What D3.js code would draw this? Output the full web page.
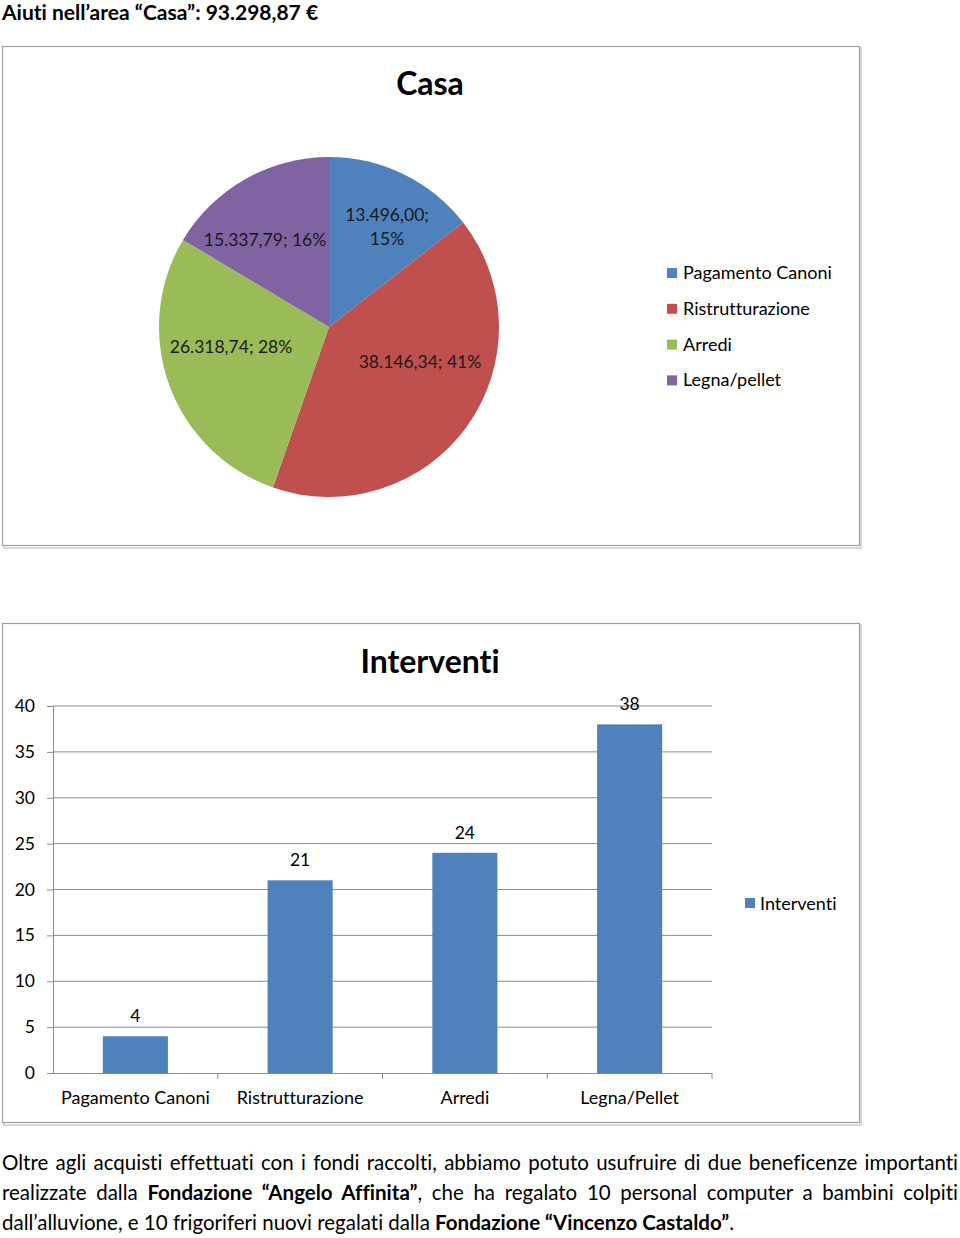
<!DOCTYPE html>
<html>
<head>
<meta charset="utf-8">
<script src="https://cdn.jsdelivr.net/npm/d3@7"></script>
<style>
  body { margin: 0; background: #fff; font-family: Lato, "Open Sans", sans-serif; font-variant-ligatures: none; }
  #page { position: relative; width: 960px; height: 1238px; }
  svg { position: absolute; left: 0; top: 0; font-variant-ligatures: none; }
  .para { position: absolute; left: 2px; width: 956px; font-size: 20.5px; color: #000; white-space: nowrap; }
  .just { text-align: justify; text-align-last: justify; white-space: normal; }
</style>
</head>
<body>
<div id="page">
  <svg width="960" height="1238"></svg>
  <div class="para just" style="top:1150px">Oltre agli acquisti effettuati con i fondi raccolti, abbiamo potuto usufruire di due beneficenze importanti</div>
  <div class="para just" style="top:1180px">realizzate dalla <b>Fondazione “Angelo Affinita”</b>, che ha regalato 10 personal computer a bambini colpiti</div>
  <div class="para" style="top:1210px">dall’alluvione, e 10 frigoriferi nuovi regalati dalla <b>Fondazione “Vincenzo Castaldo”</b>.</div>
</div>
<script>
var pieLabels = ['Pagamento Canoni', 'Ristrutturazione', 'Arredi', 'Legna/pellet'];
var pieValues = [13496.00, 38146.34, 26318.74, 15337.79];
var piePercents = ['15%', '41%', '28%', '16%'];
var pieColors = ['#4f81bd', '#c0504d', '#9bbb59', '#8064a2'];

var barLabels = ['Pagamento Canoni', 'Ristrutturazione', 'Arredi', 'Legna/Pellet'];
var barValues = [4, 21, 24, 38];
var yTicks = [0, 5, 10, 15, 20, 25, 30, 35, 40];

var svg = d3.select('svg');

function fmt(v) {
  var s = v.toFixed(2).split('.');
  return s[0].replace(/\B(?=(\d{3})+(?!\d))/g, '.') + ',' + s[1];
}

// heading
svg.append('text')
  .attr('x', 2).attr('y', 20)
  .style('font-size', '21px').style('font-weight', 'bold')
  .text('Aiuti nell’area “Casa”: 93.298,87 €');

function frame(y) {
  svg.append('rect')
    .attr('x', 4).attr('y', y + 2).attr('width', 857).attr('height', 500)
    .attr('fill', 'none').attr('stroke', '#d8d8d8').attr('stroke-width', 2);
  svg.append('rect')
    .attr('x', 2.5).attr('y', y + 0.5).attr('width', 857).attr('height', 499)
    .attr('fill', '#fff').attr('stroke', '#a0a0a0').attr('stroke-width', 1.2);
}

// ---------- pie ----------
frame(46);
svg.append('text')
  .attr('x', 430).attr('y', 95)
  .attr('text-anchor', 'middle')
  .style('font-size', '32px').style('font-weight', 'bold')
  .text('Casa');

var pie = d3.pie().sort(null)(pieValues);
var arc = d3.arc().innerRadius(0).outerRadius(170);
var pg = svg.append('g').attr('transform', 'translate(329,327)');
pg.selectAll('path')
  .data(pie)
  .enter()
  .append('path')
  .attr('d', arc)
  .attr('fill', function(d, i) { return pieColors[i]; });

// label spots (relative to centre)
var labelPos = [[58, -106], [91, 41], [-98, 26], [-64, -81]];
pg.selectAll('text.pl')
  .data(pie)
  .enter()
  .append('text')
  .attr('class', 'pl')
  .attr('text-anchor', 'middle')
  .style('font-size', '17.5px')
  .attr('fill', '#1a1a1a')
  .each(function(d, i) {
    var t = d3.select(this);
    var p = labelPos[i];
    if (i === 0) {
      t.append('tspan').attr('x', p[0]).attr('y', p[1]).text(fmt(d.value) + ';');
      t.append('tspan').attr('x', p[0]).attr('y', p[1] + 24).text(piePercents[i]);
    } else {
      t.attr('x', p[0]).attr('y', p[1]).text(fmt(d.value) + '; ' + piePercents[i]);
    }
  });

var pl = svg.append('g').attr('transform', 'translate(667,273)');
pieLabels.forEach(function(l, i) {
  pl.append('rect').attr('x', 0).attr('y', i * 35.8 - 5).attr('width', 10).attr('height', 10).attr('fill', pieColors[i]);
  pl.append('text').attr('x', 16).attr('y', i * 35.8 + 6).style('font-size', '18px').text(l);
});

// ---------- bars ----------
frame(623);
svg.append('text')
  .attr('x', 430).attr('y', 673)
  .attr('text-anchor', 'middle')
  .style('font-size', '32px').style('font-weight', 'bold')
  .text('Interventi');

var x = d3.scaleBand().domain(barLabels).range([53, 712]);
var y = d3.scaleLinear().domain([0, 40]).range([1073, 706]);

svg.append('g')
  .selectAll('line')
  .data(yTicks.slice(1))
  .enter()
  .append('line')
  .attr('x1', 53).attr('x2', 712)
  .attr('y1', function(d) { return y(d); })
  .attr('y2', function(d) { return y(d); })
  .attr('stroke', '#8c8c8c');

var yAxis = svg.append('g')
  .attr('transform', 'translate(53,0)')
  .call(d3.axisLeft(y).tickValues(yTicks).tickSize(6).tickPadding(12));
yAxis.selectAll('text').style('font-size', '17.5px').style('font-family', 'Lato');
yAxis.selectAll('line,path').attr('stroke', '#8c8c8c');

var xAxis = svg.append('g')
  .attr('transform', 'translate(0,1073)')
  .call(d3.axisBottom(x).tickSize(0).tickPadding(18));
xAxis.selectAll('text').style('font-size', '18px').style('font-family', 'Lato');
xAxis.select('path').attr('stroke', '#8c8c8c');
xAxis.selectAll('line.bound')
  .data(x.domain())
  .enter()
  .append('line')
  .attr('class', 'bound')
  .attr('x1', function(d) { return x(d) + x.bandwidth(); })
  .attr('x2', function(d) { return x(d) + x.bandwidth(); })
  .attr('y1', 0).attr('y2', 6)
  .attr('stroke', '#8c8c8c');

var bw = x.bandwidth() * 0.395;
svg.append('g')
  .selectAll('rect')
  .data(barValues)
  .enter()
  .append('rect')
  .attr('x', function(d, i) { return x(barLabels[i]) + x.bandwidth() / 2 - bw / 2; })
  .attr('y', function(d) { return y(d); })
  .attr('width', bw)
  .attr('height', function(d) { return y(0) - y(d); })
  .attr('fill', '#4f81bd');

svg.append('g')
  .selectAll('text')
  .data(barValues)
  .enter()
  .append('text')
  .attr('x', function(d, i) { return x(barLabels[i]) + x.bandwidth() / 2; })
  .attr('y', function(d) { return y(d) - 14; })
  .attr('text-anchor', 'middle')
  .style('font-size', '17.5px')
  .text(function(d) { return d; });

svg.append('rect').attr('x', 745).attr('y', 898).attr('width', 10).attr('height', 10).attr('fill', '#4f81bd');
svg.append('text').attr('x', 760).attr('y', 910).style('font-size', '18px').text('Interventi');
</script>
</body>
</html>
